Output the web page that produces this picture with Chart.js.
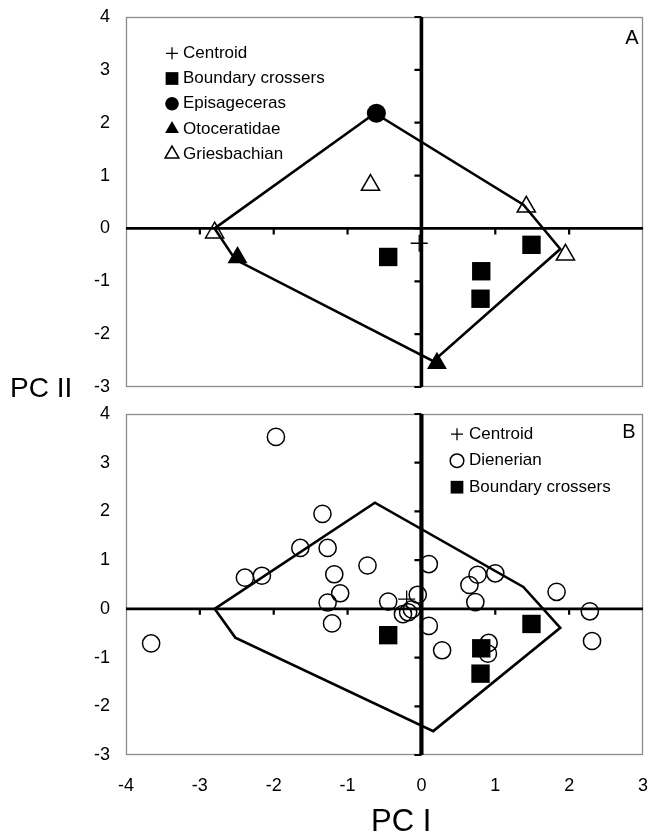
<!DOCTYPE html>
<html>
<head>
<meta charset="utf-8">
<script src="https://cdn.jsdelivr.net/npm/chart.js@4.4.1/dist/chart.umd.min.js"></script>
<style>
  html, body { margin: 0; padding: 0; background: #fff; }
  #wrap { position: relative; width: 649px; height: 837px; overflow: hidden;
          font-family: "Liberation Sans", Arial, Helvetica, sans-serif; }
  #wrap canvas { position: absolute; left: 0; }
  #cTop { top: 0; }
  #cBot { top: 400px; }
  .axisTitle { position: absolute; color: #000; white-space: nowrap; line-height: 1; }
</style>
</head>
<body>
<div id="wrap">
  <canvas id="cTop" width="649" height="400"></canvas>
  <canvas id="cBot" width="649" height="437"></canvas>
  <div class="axisTitle" style="left:10px; top:374px; font-size:28px;">PC II</div>
  <div class="axisTitle" style="left:371px; top:805px; font-size:31px;">PC I</div>
</div>
<script>
// ---- axis ranges and ticks ----
const xRange = [-4, 3];
const yRange = [-3, 4];

// ---- convex hull outline (PC I, PC II), shared by both panels ----
const hullX = [-2.80, -0.63, 1.38, 1.88, 0.16, -2.52, -2.80];
const hullY = [ 0.00,  2.18, 0.45, -0.39, -2.51, -0.59, 0.00];

// ---- panel A ----
const centroidAX = [-0.03];
const centroidAY = [-0.28];
const crossersX = [-0.45, 0.81, 0.80, 1.49];
const crossersY = [-0.54, -0.81, -1.33, -0.31];
const episagecerasX = [-0.61];
const episagecerasY = [2.18];
const otoceratidaeX = [-2.49, 0.21];
const otoceratidaeY = [-0.55, -2.55];
const griesbachianX = [-2.80, -0.69, 1.42, 1.95];
const griesbachianY = [-0.08, 0.82, 0.41, -0.50];

// ---- panel B ----
const centroidBX = [-0.20];
const centroidBY = [0.20];
const dienerianX = [-1.97, -1.34, -1.64, -1.27, -2.39, -2.16, -1.18, -0.73, -1.10, -1.27,
                    -1.21, -3.66, -0.45, -0.25, -0.18, -0.13, -0.05, 0.10, 0.10, 0.28,
                     0.65, 0.76, 0.73, 1.00, 0.91, 0.90, 1.83, 2.28, 2.31];
const dienerianY = [ 3.53, 1.95, 1.25, 1.25, 0.64, 0.68, 0.71, 0.89, 0.32, 0.13,
                    -0.30, -0.71, 0.15, -0.11, -0.07, -0.01, 0.29, 0.92, -0.35, -0.85,
                     0.49, 0.70, 0.14, 0.73, -0.70, -0.92, 0.35, -0.05, -0.66];

const FONT = '"Liberation Sans", Arial, Helvetica, sans-serif';
const zip = (xs, ys) => xs.map((x, i) => ({ x: x, y: ys[i] }));

// Dataset factories
function centroidSet(xs, ys) {
  return { label: 'Centroid', data: zip(xs, ys), pointStyle: 'cross', pointRadius: 8.5,
           pointBorderWidth: 1.3, pointBorderColor: '#000', pointBackgroundColor: '#000', order: 0 };
}
function crossersSet() {
  return { label: 'Boundary crossers', data: zip(crossersX, crossersY), pointStyle: 'rect',
           pointRadius: 13, pointBorderWidth: 0, pointBorderColor: '#000',
           pointBackgroundColor: '#000', order: 1 };
}
function hullSet() {
  return { label: 'hull', data: zip(hullX, hullY), showLine: true, pointRadius: 0,
           borderColor: '#000', borderWidth: 2.6, fill: false, order: 10 };
}

// Plot frame plus the two axes crossing at the origin
function makeFrameAxes(vWidth) {
  return {
    id: 'frameAxes',
    beforeDatasetsDraw(chart) {
      const { ctx, chartArea: a, scales: { x, y } } = chart;
      ctx.save();
      ctx.strokeStyle = '#8c8c8c';
      ctx.lineWidth = 1.3;
      ctx.strokeRect(a.left + 0.5, a.top + 0.5, a.width - 1, a.height - 1);
      const x0 = x.getPixelForValue(0), y0 = y.getPixelForValue(0);
      ctx.strokeStyle = '#000';
      ctx.lineWidth = 2.8;
      ctx.beginPath();
      ctx.moveTo(a.left, y0); ctx.lineTo(a.right, y0);
      ctx.stroke();
      ctx.lineWidth = vWidth;
      ctx.beginPath();
      ctx.moveTo(x0, a.top); ctx.lineTo(x0, a.bottom);
      ctx.stroke();
      ctx.lineWidth = 2.2;
      ctx.beginPath();
      for (let v = Math.ceil(y.min); v <= y.max; v++) {
        const p = y.getPixelForValue(v);
        ctx.moveTo(x0 - 7, p); ctx.lineTo(x0, p);
      }
      for (let v = Math.ceil(x.min) + 1; v < x.max; v++) {
        const p = x.getPixelForValue(v);
        ctx.moveTo(p, y0); ctx.lineTo(p, y0 + 6);
      }
      ctx.stroke();
      ctx.restore();
    }
  };
}

// In-plot key and panel letter
function makeKey(cfg) {
  return {
    id: 'panelKey',
    afterDatasetsDraw(chart) {
      const ctx = chart.ctx;
      cfg.items.forEach((it, i) => {
        const ds = chart.data.datasets[it.ds];
        const yy = cfg.y + i * cfg.gap;
        ctx.save();
        ctx.fillStyle = ds.pointBackgroundColor;
        ctx.strokeStyle = ds.pointBorderColor;
        ctx.lineWidth = ds.pointBorderWidth;
        Chart.helpers.drawPoint(ctx, { pointStyle: ds.pointStyle, rotation: 0,
          radius: it.r, borderWidth: ds.pointBorderWidth }, cfg.x, yy);
        ctx.fillStyle = '#000';
        ctx.font = '17px ' + FONT;
        ctx.textAlign = 'left';
        ctx.textBaseline = 'middle';
        ctx.fillText(ds.label, cfg.textX, yy);
        ctx.restore();
      });
      ctx.save();
      ctx.fillStyle = '#000';
      ctx.font = '20px ' + FONT;
      ctx.textAlign = 'center';
      ctx.textBaseline = 'middle';
      ctx.fillText(cfg.letter, cfg.letterX, cfg.letterY);
      ctx.restore();
    }
  };
}

// Tick labels may overhang the plot; keep the plot box where the padding puts it
function noLabelPadding(s) {
  s.paddingTop = 0; s.paddingBottom = 0; s.paddingLeft = 0; s.paddingRight = 0;
}

function options(showX, padding) {
  const tickFont = { family: FONT, size: 18 };
  return {
    responsive: false,
    animation: false,
    devicePixelRatio: 1,
    layout: { padding: padding, autoPadding: false },
    plugins: { legend: { display: false }, tooltip: { enabled: false } },
    scales: {
      x: {
        type: 'linear', min: xRange[0], max: xRange[1], display: showX,
        grid: { display: false, drawTicks: false }, border: { display: false },
        ticks: { stepSize: 1, color: '#000', font: tickFont, padding: 20, maxRotation: 0 },
        afterFit(s) { s.height = showX ? 42 : 0; noLabelPadding(s); }
      },
      y: {
        type: 'linear', min: yRange[0], max: yRange[1],
        grid: { display: false, drawTicks: false }, border: { display: false },
        ticks: { stepSize: 1, color: '#000', font: tickFont, padding: 16 },
        afterFit(s) { s.width = 126; noLabelPadding(s); }
      }
    }
  };
}

// Panel A
new Chart(document.getElementById('cTop'), {
  type: 'scatter',
  data: {
    datasets: [
      centroidSet(centroidAX, centroidAY),
      crossersSet(),
      { label: 'Episageceras', data: zip(episagecerasX, episagecerasY), pointStyle: 'circle',
        pointRadius: 9.5, pointBorderWidth: 0, pointBorderColor: '#000', pointBackgroundColor: '#000', order: 1 },
      { label: 'Otoceratidae', data: zip(otoceratidaeX, otoceratidaeY), pointStyle: 'triangle',
        pointRadius: 11.5, pointBorderWidth: 0, pointBorderColor: '#000', pointBackgroundColor: '#000', order: 1 },
      { label: 'Griesbachian', data: zip(griesbachianX, griesbachianY), pointStyle: 'triangle',
        pointRadius: 10.5, pointBorderWidth: 1.5, pointBorderColor: '#000', pointBackgroundColor: 'rgba(255,255,255,0)', order: 1 },
      hullSet()
    ]
  },
  options: options(false, { left: 0, right: 6, top: 17, bottom: 13 }),
  plugins: [makeFrameAxes(3.6), makeKey({
    x: 172, textX: 183, y: 53.3, gap: 25.2, letter: 'A', letterX: 632, letterY: 38,
    items: [{ ds: 0, r: 6 }, { ds: 1, r: 9 }, { ds: 2, r: 6.8 }, { ds: 3, r: 8 }, { ds: 4, r: 8 }]
  })]
});

// Panel B
new Chart(document.getElementById('cBot'), {
  type: 'scatter',
  data: {
    datasets: [
      centroidSet(centroidBX, centroidBY),
      { label: 'Dienerian', data: zip(dienerianX, dienerianY), pointStyle: 'circle',
        pointRadius: 8.6, pointBorderWidth: 1.5, pointBorderColor: '#000', pointBackgroundColor: 'rgba(255,255,255,0)', order: 2 },
      crossersSet(),
      hullSet()
    ]
  },
  options: options(true, { left: 0, right: 6, top: 14, bottom: 40 }),
  plugins: [makeFrameAxes(4.2), makeKey({
    x: 457, textX: 469, y: 34.2, gap: 26.5, letter: 'B', letterX: 629, letterY: 32,
    items: [{ ds: 0, r: 6 }, { ds: 1, r: 6.8 }, { ds: 2, r: 9 }]
  })]
});
</script>
</body>
</html>
